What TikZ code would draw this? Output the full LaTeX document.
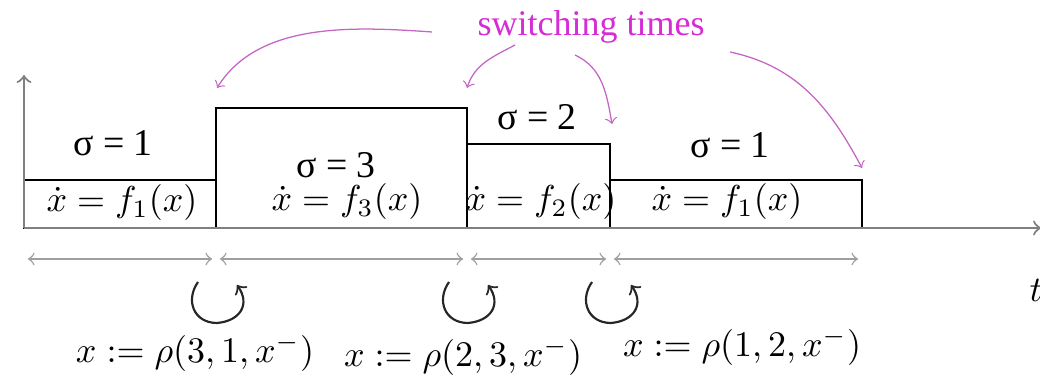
\documentclass[tikz,border=0pt]{standalone}
\usepackage[no-math]{fontspec}
\newfontfamily\timesfont{Liberation Serif}
\usetikzlibrary{arrows,calc}
\definecolor{switchpink}{RGB}{214,44,214}
\definecolor{switcharrow}{RGB}{196,100,196}
\tikzset{
  modebox/.style={draw=black, line width=0.5pt},
  modelabel/.style={font=\timesfont\fontsize{10.5}{12}\selectfont, inner sep=0pt},
  flowlabel/.style={inner sep=0pt},
  interval/.style={<->, draw=gray!75, line width=0.4pt, shorten >=1.1pt, shorten <=1.1pt},
  reset/.style={->, draw=black!85, line width=0.6pt},
  switchnote/.style={->, draw=switcharrow, line width=0.35pt},
  axis/.style={->, draw=gray, line width=0.6pt},
}
\tikzset{>=to}

\begin{document}
\begin{tikzpicture}[x=0.00977cm, y=0.00977cm]
\useasboundingbox (0,0) rectangle (1040,376);

% switching instants on the time axis
\coordinate (s0) at (24,148);
\coordinate (s1) at (216,148);
\coordinate (s2) at (467,148);
\coordinate (s3) at (610,148);
\coordinate (s4) at (862,148);

\draw[modebox] (s0) rectangle ($(s1)+(0,48)$);
\draw[modebox] (s1) rectangle ($(s2)+(0,120)$);
\draw[modebox] (s2) rectangle ($(s3)+(0,84)$);
\draw[modebox] (s3) rectangle ($(s4)+(0,48)$);

\draw[axis] (s0) -- (24,301);
\draw[axis] (s0) -- (1041,148);
\node at (1036,86) (time) {$t$};

\node[modelabel] at (113,233) (mode1)  {σ = 1};
\node[modelabel] at (336,211) (mode3)  {σ = 3};
\node[modelabel] at (537,259) (mode2)  {σ = 2};
\node[modelabel] at (730,231) (mode1b) {σ = 1};

\node[flowlabel] at (122,173) (flow1)  {$\dot x = f_1(x)$};
\node[flowlabel] at (347,174) (flow3)  {$\dot x = f_3(x)$};
\node[flowlabel] at (541,174) (flow2)  {$\dot x = f_2(x)$};
\node[flowlabel] at (727,174) (flow1b) {$\dot x = f_1(x)$};

\draw[interval] ($(s0)+(0,-31)$) -- ($(s1)+(0,-31)$);
\draw[interval] ($(s1)+(0,-31)$) -- ($(s2)+(0,-31)$);
\draw[interval] ($(s2)+(0,-31)$) -- ($(s3)+(0,-31)$);
\draw[interval] ($(s3)+(0,-31)$) -- ($(s4)+(0,-31)$);

\foreach \j in {s1,s2,s3}
  \draw[reset] ($(\j)+(-18,-54)$) to[out=235,in=180,looseness=1.3] ($(\j)+(1,-95)$)
               to[out=5,in=-55,looseness=1.4] ($(\j)+(21,-57)$);

\node at (195,23) (reset31) {$x := \rho(3,1,x^-)$};
\node at (463,19) (reset23) {$x := \rho(2,3,x^-)$};
\node at (742,29) (reset12) {$x := \rho(1,2,x^-)$};

\node[font=\timesfont, text=switchpink] at (591,349) (switching) {switching times};
\coordinate (from1) at (432,344);
\coordinate (from2) at (515,331);
\coordinate (from3) at (575,321);
\coordinate (from4) at (730,324);
\draw[switchnote] (from1) to[out=176,in=58,looseness=0.9] ($(s1)+(1,140)$);
\draw[switchnote] (from2) to[out=208,in=72] ($(s2)+(0,140)$);
\draw[switchnote] (from3) to[out=-25,in=100] ($(s3)+(2,104)$);
\draw[switchnote] (from4) to[out=-12,in=118] ($(s4)+(0,60)$);
\end{tikzpicture}
\end{document}
